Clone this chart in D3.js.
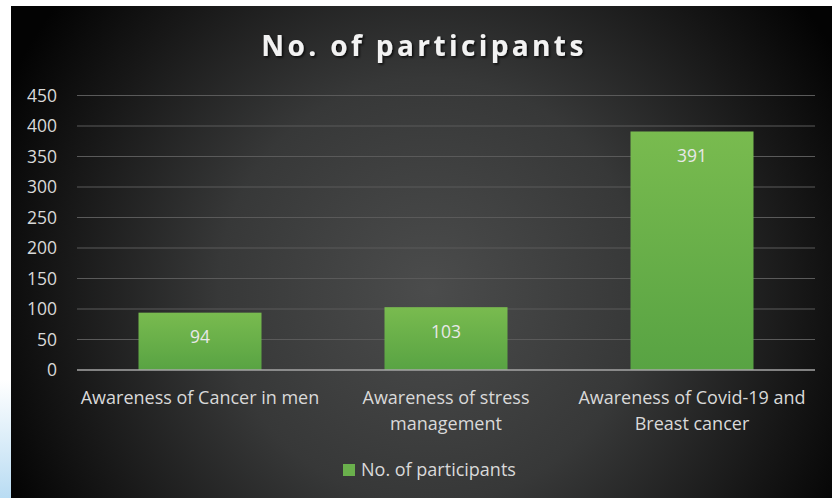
<!DOCTYPE html>
<html><head><meta charset="utf-8">
<script src="https://cdn.jsdelivr.net/npm/d3@7"></script>
<style>html,body{margin:0;padding:0;background:#fff;overflow:hidden}</style>
</head><body>
<svg id="c" width="832" height="498"></svg>
<script>
const categories = [["Awareness of Cancer in men"], ["Awareness of stress", "management"], ["Awareness of Covid-19 and", "Breast cancer"]];
const values = [94, 103, 391];
const yTicks = [0, 50, 100, 150, 200, 250, 300, 350, 400, 450];
const seriesName = "No. of participants";
const title = "No. of participants";

const svg = d3.select("#c");
const W = 832, H = 498;
const defs = svg.append("defs");

// page decoration: light blue strip at bottom left
const lb = defs.append("linearGradient").attr("id","lb").attr("x1",0).attr("y1",0).attr("x2",0).attr("y2",1);
lb.append("stop").attr("offset","0%").attr("stop-color","#ffffff");
lb.append("stop").attr("offset","100%").attr("stop-color","#b9dcf3");
svg.append("rect").attr("x",0).attr("y",380).attr("width",11).attr("height",118).attr("fill","url(#lb)");

// background radial gradient
const rg = defs.append("radialGradient").attr("id","bg").attr("gradientUnits","userSpaceOnUse")
  .attr("cx",430).attr("cy",290).attr("r",470);
rg.append("stop").attr("offset","0%").attr("stop-color","#4b4c4c");
rg.append("stop").attr("offset","45%").attr("stop-color","#373838");
rg.append("stop").attr("offset","80%").attr("stop-color","#161616");
rg.append("stop").attr("offset","100%").attr("stop-color","#030303");
svg.append("rect").attr("x",11).attr("y",6).attr("width",W-11).attr("height",H-6).attr("fill","url(#bg)");

const barG = defs.append("linearGradient").attr("id","bar").attr("x1",0).attr("y1",0).attr("x2",0).attr("y2",1);
barG.append("stop").attr("offset","0%").attr("stop-color","#79bb4f");
barG.append("stop").attr("offset","100%").attr("stop-color","#58a343");

const sh = defs.append("filter").attr("id","sh").attr("x","-10%").attr("y","-10%").attr("width","130%").attr("height","140%");
sh.append("feDropShadow").attr("dx",1.5).attr("dy",1.5).attr("stdDeviation",1.2).attr("flood-color","#000").attr("flood-opacity",0.8);

const pL = 77, pR = 815, pT = 95.5, pB = 370;
const x = d3.scaleBand().domain(d3.range(values.length)).range([pL, pR]).paddingInner(0.5).paddingOuter(0.25);
const y = d3.scaleLinear().domain([0, 450]).range([pB, pT]);

const font = "'Open Sans', 'Noto Sans', sans-serif";

// title
svg.append("text").attr("x",424).attr("y",56).attr("text-anchor","middle")
  .attr("font-family",font).attr("font-weight","bold").attr("font-size",28).attr("letter-spacing",3.4)
  .attr("fill","#f2f2f2").attr("filter","url(#sh)").text(title);

// gridlines
svg.append("g").selectAll("line").data(yTicks.filter(d=>d>0)).join("line")
  .attr("x1",pL).attr("x2",pR).attr("y1",d=>y(d)).attr("y2",d=>y(d))
  .attr("stroke","#5a5a5a").attr("stroke-width",1);

// y axis
const ya = svg.append("g").attr("transform",`translate(${pL},0)`)
  .call(d3.axisLeft(y).tickValues(yTicks).tickSize(0).tickPadding(20));
ya.select(".domain").remove();
ya.selectAll("text").attr("font-family",font).attr("font-size",17.5).attr("fill","#d9d9d9");

// bars
svg.append("g").selectAll("rect").data(values).join("rect")
  .attr("x",(d,i)=>x(i)).attr("width",x.bandwidth())
  .attr("y",d=>y(d)).attr("height",d=>pB-y(d)).attr("fill","url(#bar)");

// baseline
svg.append("line").attr("x1",pL).attr("x2",pR).attr("y1",pB).attr("y2",pB)
  .attr("stroke","#a6a6a6").attr("stroke-width",1.5);

// value labels
svg.append("g").selectAll("text").data(values).join("text")
  .attr("x",(d,i)=>x(i)+x.bandwidth()/2).attr("y",d=>y(d)+30.5)
  .attr("text-anchor","middle").attr("font-family",font).attr("font-size",17.5).attr("fill","#e8e8e8")
  .text(d=>d);

// category labels
const xg = svg.append("g");
categories.forEach((lines,i)=>{
  const t = xg.append("text").attr("x",x(i)+x.bandwidth()/2).attr("y",404)
    .attr("text-anchor","middle").attr("font-family",font).attr("font-size",18).attr("fill","#d9d9d9");
  lines.forEach((l,j)=>t.append("tspan").attr("x",x(i)+x.bandwidth()/2).attr("dy",j===0?0:25.5).text(l));
});

// legend
svg.append("rect").attr("x",343).attr("y",464).attr("width",12).attr("height",12).attr("fill","#6ab04c");
svg.append("text").attr("x",361).attr("y",476).attr("font-family",font).attr("font-size",18).attr("fill","#d9d9d9").text(seriesName);
</script>
</body></html>
